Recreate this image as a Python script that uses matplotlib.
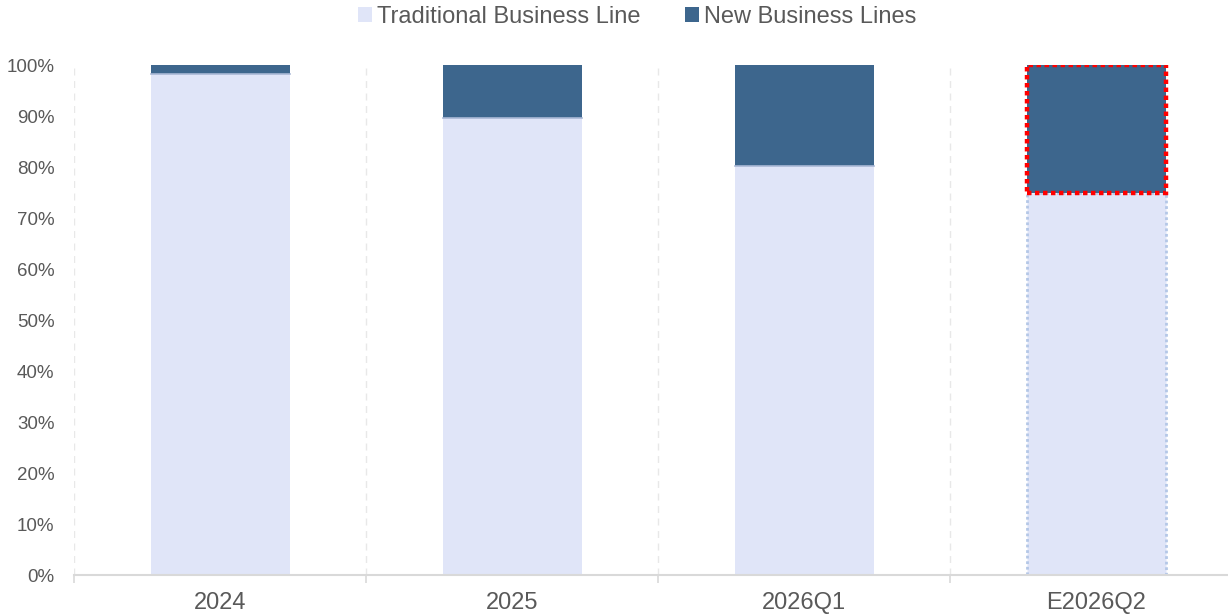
import numpy as np
import matplotlib.pyplot as plt
from matplotlib.ticker import PercentFormatter

plt.rcParams['font.family'] = ['Liberation Sans', 'DejaVu Sans']

categories = ['2024', '2025', '2026Q1', 'E2026Q2']
traditional = [98.2, 89.6, 80.2, 74.9]
new_lines = [100 - v for v in traditional]

c_trad = '#E0E5F8'
c_new = '#3D668D'
grey = '#595959'

fig = plt.figure(figsize=(12.28, 6.15), dpi=100)
ax = fig.add_axes([0.0603, 0.065, 0.9397, 0.829])

x = np.arange(len(categories))
w = 0.476
b1 = ax.bar(x, traditional, w, color=c_trad, label='Traditional Business Line', zorder=2)
b2 = ax.bar(x, new_lines, w, bottom=traditional, color=c_new, label='New Business Lines', zorder=2)

# thin separator line between segments
for xi, t in zip(x[:-1], traditional[:-1]):
    ax.plot([xi - w / 2, xi + w / 2], [t, t], color='#A9B8D6', lw=1.2, zorder=3)

# forecast bar highlighted with dotted outlines
b1[-1].set_edgecolor('#B4C7E7')
b1[-1].set_linestyle((0, (1, 1)))
b1[-1].set_linewidth(2)
b2[-1].set_edgecolor('#FF0000')
b2[-1].set_linestyle((0, (1, 0.8)))
b2[-1].set_linewidth(3.2)
b2[-1].set_zorder(4)

ax.yaxis.set_major_locator(plt.MultipleLocator(10))
ax.yaxis.set_major_formatter(PercentFormatter(decimals=0))

bounds = np.arange(-0.5, 3.6, 1)
ax.set_xticks(x)
ax.set_xticklabels(categories, fontsize=17, color=grey)
ax.set_xticks(bounds, minor=True)
ax.tick_params(axis='x', which='major', length=0, pad=12)
ax.tick_params(axis='x', which='minor', length=6, color='#D9D9D9', width=1.2)
ax.tick_params(axis='y', length=0, labelsize=13.5, labelcolor=grey, pad=14)

for b in bounds:
    ax.axvline(b, color='#E8E8E8', lw=1, ls=(0, (5, 4)), zorder=1)

ax.set_ylim(0, 100)
ax.set_xlim(-0.5, 3.452)

for s in ['top', 'right', 'left']:
    ax.spines[s].set_visible(False)
ax.spines['bottom'].set_color('#D9D9D9')
ax.spines['bottom'].set_linewidth(1.5)

leg = fig.legend(handles=[b1[0], b2[0]], labels=['Traditional Business Line', 'New Business Lines'],
                 loc='upper center', bbox_to_anchor=(0.519, 1.025), ncol=2, frameon=False,
                 fontsize=17, handlelength=0.6, handleheight=0.6, handletextpad=0.2,
                 columnspacing=1.9, labelcolor=grey)
for h in leg.legend_handles:
    h.set_edgecolor('none')
    h.set_linestyle('-')

fig.savefig('out.png', dpi=100)
